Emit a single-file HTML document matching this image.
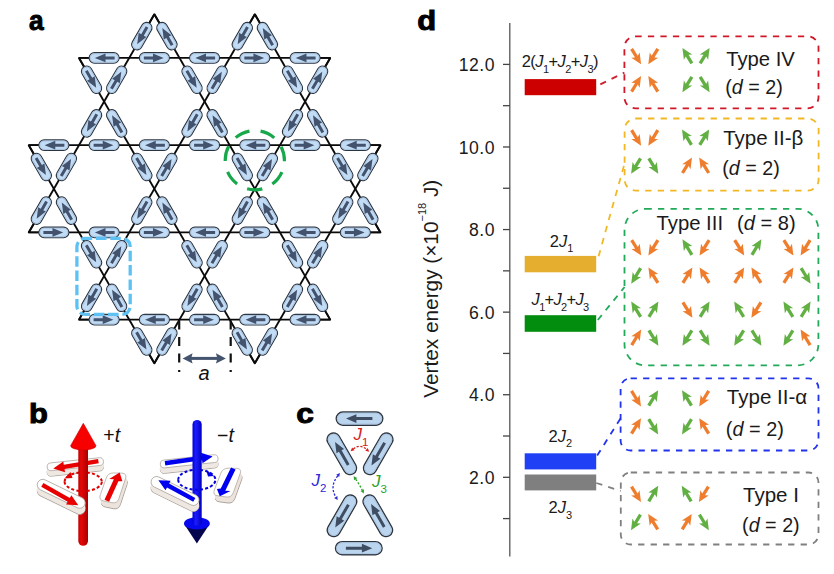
<!DOCTYPE html>
<html><head><meta charset="utf-8"><style>html,body{margin:0;padding:0;background:#fff;width:834px;height:574px;overflow:hidden}</style></head><body>
<svg width="834" height="574" viewBox="0 0 834 574" style="position:absolute;left:0;top:0">
<rect width="834" height="574" fill="#ffffff"/>
<text x="29.0" y="29.9" font-family="'Liberation Sans', Arial, sans-serif" font-weight="bold" font-size="28.5" textLength="14.6" lengthAdjust="spacingAndGlyphs" fill="#000" stroke="#000" stroke-width="1">a</text>
<g stroke="#0a0a0a" stroke-width="1.85" stroke-linecap="butt" stroke-linejoin="round" fill="none">
<line x1="79.00" y1="57.94" x2="330.20" y2="57.94"/>
<line x1="28.76" y1="145.18" x2="380.44" y2="145.18"/>
<line x1="28.76" y1="232.42" x2="380.44" y2="232.42"/>
<line x1="79.00" y1="319.66" x2="330.20" y2="319.66"/>
<line x1="154.36" y1="14.32" x2="330.20" y2="319.66"/>
<line x1="254.84" y1="14.32" x2="380.44" y2="232.42"/>
<line x1="79.00" y1="57.94" x2="254.84" y2="363.28"/>
<line x1="28.76" y1="145.18" x2="154.36" y2="363.28"/>
<line x1="254.84" y1="14.32" x2="79.00" y2="319.66"/>
<line x1="154.36" y1="14.32" x2="28.76" y2="232.42"/>
<line x1="330.20" y1="57.94" x2="154.36" y2="363.28"/>
<line x1="380.44" y1="145.18" x2="254.84" y2="363.28"/>
<polyline points="141.80,36.13 154.36,14.32 166.92,36.13"/>
<polyline points="242.28,36.13 254.84,14.32 267.40,36.13"/>
<polyline points="141.80,341.47 154.36,363.28 166.92,341.47"/>
<polyline points="242.28,341.47 254.84,363.28 267.40,341.47"/>
<polyline points="104.12,57.94 79.00,57.94 91.56,79.75"/>
<polyline points="305.08,57.94 330.20,57.94 317.64,79.75"/>
<polyline points="53.88,145.18 28.76,145.18 41.32,166.99"/>
<polyline points="355.32,145.18 380.44,145.18 367.88,166.99"/>
<polyline points="53.88,232.42 28.76,232.42 41.32,210.61"/>
<polyline points="355.32,232.42 380.44,232.42 367.88,210.61"/>
<polyline points="104.12,319.66 79.00,319.66 91.56,297.85"/>
<polyline points="305.08,319.66 330.20,319.66 317.64,297.85"/>
</g>
<g transform="translate(104.12,57.94) rotate(180.00)"><rect x="-15.0" y="-5.3" width="30.0" height="10.6" rx="5.3" fill="#c3dcf5" stroke="#2c3440" stroke-width="1.1"/><rect x="-13.9" y="-4.199999999999999" width="27.8" height="8.399999999999999" rx="4.199999999999999" fill="none" stroke="#a7c2de" stroke-width="0.9"/><path d="M-10.5,-1.5 L-1.4,-1.5 L-1.4,-4.4 L9.3,0 L-1.4,4.4 L-1.4,1.5 L-10.5,1.5 Z" fill="#44536d"/></g>
<g transform="translate(154.36,57.94) rotate(0.00)"><rect x="-15.0" y="-5.3" width="30.0" height="10.6" rx="5.3" fill="#c3dcf5" stroke="#2c3440" stroke-width="1.1"/><rect x="-13.9" y="-4.199999999999999" width="27.8" height="8.399999999999999" rx="4.199999999999999" fill="none" stroke="#a7c2de" stroke-width="0.9"/><path d="M-10.5,-1.5 L-1.4,-1.5 L-1.4,-4.4 L9.3,0 L-1.4,4.4 L-1.4,1.5 L-10.5,1.5 Z" fill="#44536d"/></g>
<g transform="translate(204.60,57.94) rotate(180.00)"><rect x="-15.0" y="-5.3" width="30.0" height="10.6" rx="5.3" fill="#c3dcf5" stroke="#2c3440" stroke-width="1.1"/><rect x="-13.9" y="-4.199999999999999" width="27.8" height="8.399999999999999" rx="4.199999999999999" fill="none" stroke="#a7c2de" stroke-width="0.9"/><path d="M-10.5,-1.5 L-1.4,-1.5 L-1.4,-4.4 L9.3,0 L-1.4,4.4 L-1.4,1.5 L-10.5,1.5 Z" fill="#44536d"/></g>
<g transform="translate(254.84,57.94) rotate(0.00)"><rect x="-15.0" y="-5.3" width="30.0" height="10.6" rx="5.3" fill="#c3dcf5" stroke="#2c3440" stroke-width="1.1"/><rect x="-13.9" y="-4.199999999999999" width="27.8" height="8.399999999999999" rx="4.199999999999999" fill="none" stroke="#a7c2de" stroke-width="0.9"/><path d="M-10.5,-1.5 L-1.4,-1.5 L-1.4,-4.4 L9.3,0 L-1.4,4.4 L-1.4,1.5 L-10.5,1.5 Z" fill="#44536d"/></g>
<g transform="translate(305.08,57.94) rotate(180.00)"><rect x="-15.0" y="-5.3" width="30.0" height="10.6" rx="5.3" fill="#c3dcf5" stroke="#2c3440" stroke-width="1.1"/><rect x="-13.9" y="-4.199999999999999" width="27.8" height="8.399999999999999" rx="4.199999999999999" fill="none" stroke="#a7c2de" stroke-width="0.9"/><path d="M-10.5,-1.5 L-1.4,-1.5 L-1.4,-4.4 L9.3,0 L-1.4,4.4 L-1.4,1.5 L-10.5,1.5 Z" fill="#44536d"/></g>
<g transform="translate(53.88,145.18) rotate(180.00)"><rect x="-15.0" y="-5.3" width="30.0" height="10.6" rx="5.3" fill="#c3dcf5" stroke="#2c3440" stroke-width="1.1"/><rect x="-13.9" y="-4.199999999999999" width="27.8" height="8.399999999999999" rx="4.199999999999999" fill="none" stroke="#a7c2de" stroke-width="0.9"/><path d="M-10.5,-1.5 L-1.4,-1.5 L-1.4,-4.4 L9.3,0 L-1.4,4.4 L-1.4,1.5 L-10.5,1.5 Z" fill="#44536d"/></g>
<g transform="translate(104.12,145.18) rotate(0.00)"><rect x="-15.0" y="-5.3" width="30.0" height="10.6" rx="5.3" fill="#c3dcf5" stroke="#2c3440" stroke-width="1.1"/><rect x="-13.9" y="-4.199999999999999" width="27.8" height="8.399999999999999" rx="4.199999999999999" fill="none" stroke="#a7c2de" stroke-width="0.9"/><path d="M-10.5,-1.5 L-1.4,-1.5 L-1.4,-4.4 L9.3,0 L-1.4,4.4 L-1.4,1.5 L-10.5,1.5 Z" fill="#44536d"/></g>
<g transform="translate(154.36,145.18) rotate(180.00)"><rect x="-15.0" y="-5.3" width="30.0" height="10.6" rx="5.3" fill="#c3dcf5" stroke="#2c3440" stroke-width="1.1"/><rect x="-13.9" y="-4.199999999999999" width="27.8" height="8.399999999999999" rx="4.199999999999999" fill="none" stroke="#a7c2de" stroke-width="0.9"/><path d="M-10.5,-1.5 L-1.4,-1.5 L-1.4,-4.4 L9.3,0 L-1.4,4.4 L-1.4,1.5 L-10.5,1.5 Z" fill="#44536d"/></g>
<g transform="translate(204.60,145.18) rotate(0.00)"><rect x="-15.0" y="-5.3" width="30.0" height="10.6" rx="5.3" fill="#c3dcf5" stroke="#2c3440" stroke-width="1.1"/><rect x="-13.9" y="-4.199999999999999" width="27.8" height="8.399999999999999" rx="4.199999999999999" fill="none" stroke="#a7c2de" stroke-width="0.9"/><path d="M-10.5,-1.5 L-1.4,-1.5 L-1.4,-4.4 L9.3,0 L-1.4,4.4 L-1.4,1.5 L-10.5,1.5 Z" fill="#44536d"/></g>
<g transform="translate(254.84,145.18) rotate(180.00)"><rect x="-15.0" y="-5.3" width="30.0" height="10.6" rx="5.3" fill="#c3dcf5" stroke="#2c3440" stroke-width="1.1"/><rect x="-13.9" y="-4.199999999999999" width="27.8" height="8.399999999999999" rx="4.199999999999999" fill="none" stroke="#a7c2de" stroke-width="0.9"/><path d="M-10.5,-1.5 L-1.4,-1.5 L-1.4,-4.4 L9.3,0 L-1.4,4.4 L-1.4,1.5 L-10.5,1.5 Z" fill="#44536d"/></g>
<g transform="translate(305.08,145.18) rotate(0.00)"><rect x="-15.0" y="-5.3" width="30.0" height="10.6" rx="5.3" fill="#c3dcf5" stroke="#2c3440" stroke-width="1.1"/><rect x="-13.9" y="-4.199999999999999" width="27.8" height="8.399999999999999" rx="4.199999999999999" fill="none" stroke="#a7c2de" stroke-width="0.9"/><path d="M-10.5,-1.5 L-1.4,-1.5 L-1.4,-4.4 L9.3,0 L-1.4,4.4 L-1.4,1.5 L-10.5,1.5 Z" fill="#44536d"/></g>
<g transform="translate(355.32,145.18) rotate(180.00)"><rect x="-15.0" y="-5.3" width="30.0" height="10.6" rx="5.3" fill="#c3dcf5" stroke="#2c3440" stroke-width="1.1"/><rect x="-13.9" y="-4.199999999999999" width="27.8" height="8.399999999999999" rx="4.199999999999999" fill="none" stroke="#a7c2de" stroke-width="0.9"/><path d="M-10.5,-1.5 L-1.4,-1.5 L-1.4,-4.4 L9.3,0 L-1.4,4.4 L-1.4,1.5 L-10.5,1.5 Z" fill="#44536d"/></g>
<g transform="translate(53.88,232.42) rotate(0.00)"><rect x="-15.0" y="-5.3" width="30.0" height="10.6" rx="5.3" fill="#c3dcf5" stroke="#2c3440" stroke-width="1.1"/><rect x="-13.9" y="-4.199999999999999" width="27.8" height="8.399999999999999" rx="4.199999999999999" fill="none" stroke="#a7c2de" stroke-width="0.9"/><path d="M-10.5,-1.5 L-1.4,-1.5 L-1.4,-4.4 L9.3,0 L-1.4,4.4 L-1.4,1.5 L-10.5,1.5 Z" fill="#44536d"/></g>
<g transform="translate(104.12,232.42) rotate(180.00)"><rect x="-15.0" y="-5.3" width="30.0" height="10.6" rx="5.3" fill="#c3dcf5" stroke="#2c3440" stroke-width="1.1"/><rect x="-13.9" y="-4.199999999999999" width="27.8" height="8.399999999999999" rx="4.199999999999999" fill="none" stroke="#a7c2de" stroke-width="0.9"/><path d="M-10.5,-1.5 L-1.4,-1.5 L-1.4,-4.4 L9.3,0 L-1.4,4.4 L-1.4,1.5 L-10.5,1.5 Z" fill="#44536d"/></g>
<g transform="translate(154.36,232.42) rotate(0.00)"><rect x="-15.0" y="-5.3" width="30.0" height="10.6" rx="5.3" fill="#c3dcf5" stroke="#2c3440" stroke-width="1.1"/><rect x="-13.9" y="-4.199999999999999" width="27.8" height="8.399999999999999" rx="4.199999999999999" fill="none" stroke="#a7c2de" stroke-width="0.9"/><path d="M-10.5,-1.5 L-1.4,-1.5 L-1.4,-4.4 L9.3,0 L-1.4,4.4 L-1.4,1.5 L-10.5,1.5 Z" fill="#44536d"/></g>
<g transform="translate(204.60,232.42) rotate(180.00)"><rect x="-15.0" y="-5.3" width="30.0" height="10.6" rx="5.3" fill="#c3dcf5" stroke="#2c3440" stroke-width="1.1"/><rect x="-13.9" y="-4.199999999999999" width="27.8" height="8.399999999999999" rx="4.199999999999999" fill="none" stroke="#a7c2de" stroke-width="0.9"/><path d="M-10.5,-1.5 L-1.4,-1.5 L-1.4,-4.4 L9.3,0 L-1.4,4.4 L-1.4,1.5 L-10.5,1.5 Z" fill="#44536d"/></g>
<g transform="translate(254.84,232.42) rotate(0.00)"><rect x="-15.0" y="-5.3" width="30.0" height="10.6" rx="5.3" fill="#c3dcf5" stroke="#2c3440" stroke-width="1.1"/><rect x="-13.9" y="-4.199999999999999" width="27.8" height="8.399999999999999" rx="4.199999999999999" fill="none" stroke="#a7c2de" stroke-width="0.9"/><path d="M-10.5,-1.5 L-1.4,-1.5 L-1.4,-4.4 L9.3,0 L-1.4,4.4 L-1.4,1.5 L-10.5,1.5 Z" fill="#44536d"/></g>
<g transform="translate(305.08,232.42) rotate(180.00)"><rect x="-15.0" y="-5.3" width="30.0" height="10.6" rx="5.3" fill="#c3dcf5" stroke="#2c3440" stroke-width="1.1"/><rect x="-13.9" y="-4.199999999999999" width="27.8" height="8.399999999999999" rx="4.199999999999999" fill="none" stroke="#a7c2de" stroke-width="0.9"/><path d="M-10.5,-1.5 L-1.4,-1.5 L-1.4,-4.4 L9.3,0 L-1.4,4.4 L-1.4,1.5 L-10.5,1.5 Z" fill="#44536d"/></g>
<g transform="translate(355.32,232.42) rotate(0.00)"><rect x="-15.0" y="-5.3" width="30.0" height="10.6" rx="5.3" fill="#c3dcf5" stroke="#2c3440" stroke-width="1.1"/><rect x="-13.9" y="-4.199999999999999" width="27.8" height="8.399999999999999" rx="4.199999999999999" fill="none" stroke="#a7c2de" stroke-width="0.9"/><path d="M-10.5,-1.5 L-1.4,-1.5 L-1.4,-4.4 L9.3,0 L-1.4,4.4 L-1.4,1.5 L-10.5,1.5 Z" fill="#44536d"/></g>
<g transform="translate(104.12,319.66) rotate(0.00)"><rect x="-15.0" y="-5.3" width="30.0" height="10.6" rx="5.3" fill="#c3dcf5" stroke="#2c3440" stroke-width="1.1"/><rect x="-13.9" y="-4.199999999999999" width="27.8" height="8.399999999999999" rx="4.199999999999999" fill="none" stroke="#a7c2de" stroke-width="0.9"/><path d="M-10.5,-1.5 L-1.4,-1.5 L-1.4,-4.4 L9.3,0 L-1.4,4.4 L-1.4,1.5 L-10.5,1.5 Z" fill="#44536d"/></g>
<g transform="translate(154.36,319.66) rotate(180.00)"><rect x="-15.0" y="-5.3" width="30.0" height="10.6" rx="5.3" fill="#c3dcf5" stroke="#2c3440" stroke-width="1.1"/><rect x="-13.9" y="-4.199999999999999" width="27.8" height="8.399999999999999" rx="4.199999999999999" fill="none" stroke="#a7c2de" stroke-width="0.9"/><path d="M-10.5,-1.5 L-1.4,-1.5 L-1.4,-4.4 L9.3,0 L-1.4,4.4 L-1.4,1.5 L-10.5,1.5 Z" fill="#44536d"/></g>
<g transform="translate(204.60,319.66) rotate(0.00)"><rect x="-15.0" y="-5.3" width="30.0" height="10.6" rx="5.3" fill="#c3dcf5" stroke="#2c3440" stroke-width="1.1"/><rect x="-13.9" y="-4.199999999999999" width="27.8" height="8.399999999999999" rx="4.199999999999999" fill="none" stroke="#a7c2de" stroke-width="0.9"/><path d="M-10.5,-1.5 L-1.4,-1.5 L-1.4,-4.4 L9.3,0 L-1.4,4.4 L-1.4,1.5 L-10.5,1.5 Z" fill="#44536d"/></g>
<g transform="translate(254.84,319.66) rotate(180.00)"><rect x="-15.0" y="-5.3" width="30.0" height="10.6" rx="5.3" fill="#c3dcf5" stroke="#2c3440" stroke-width="1.1"/><rect x="-13.9" y="-4.199999999999999" width="27.8" height="8.399999999999999" rx="4.199999999999999" fill="none" stroke="#a7c2de" stroke-width="0.9"/><path d="M-10.5,-1.5 L-1.4,-1.5 L-1.4,-4.4 L9.3,0 L-1.4,4.4 L-1.4,1.5 L-10.5,1.5 Z" fill="#44536d"/></g>
<g transform="translate(305.08,319.66) rotate(180.00)"><rect x="-15.0" y="-5.3" width="30.0" height="10.6" rx="5.3" fill="#c3dcf5" stroke="#2c3440" stroke-width="1.1"/><rect x="-13.9" y="-4.199999999999999" width="27.8" height="8.399999999999999" rx="4.199999999999999" fill="none" stroke="#a7c2de" stroke-width="0.9"/><path d="M-10.5,-1.5 L-1.4,-1.5 L-1.4,-4.4 L9.3,0 L-1.4,4.4 L-1.4,1.5 L-10.5,1.5 Z" fill="#44536d"/></g>
<g transform="translate(141.80,36.13) rotate(119.94)"><rect x="-15.0" y="-5.3" width="30.0" height="10.6" rx="5.3" fill="#c3dcf5" stroke="#2c3440" stroke-width="1.1"/><rect x="-13.9" y="-4.199999999999999" width="27.8" height="8.399999999999999" rx="4.199999999999999" fill="none" stroke="#a7c2de" stroke-width="0.9"/><path d="M-10.5,-1.5 L-1.4,-1.5 L-1.4,-4.4 L9.3,0 L-1.4,4.4 L-1.4,1.5 L-10.5,1.5 Z" fill="#44536d"/></g>
<g transform="translate(166.92,36.13) rotate(-119.94)"><rect x="-15.0" y="-5.3" width="30.0" height="10.6" rx="5.3" fill="#c3dcf5" stroke="#2c3440" stroke-width="1.1"/><rect x="-13.9" y="-4.199999999999999" width="27.8" height="8.399999999999999" rx="4.199999999999999" fill="none" stroke="#a7c2de" stroke-width="0.9"/><path d="M-10.5,-1.5 L-1.4,-1.5 L-1.4,-4.4 L9.3,0 L-1.4,4.4 L-1.4,1.5 L-10.5,1.5 Z" fill="#44536d"/></g>
<g transform="translate(242.28,36.13) rotate(119.94)"><rect x="-15.0" y="-5.3" width="30.0" height="10.6" rx="5.3" fill="#c3dcf5" stroke="#2c3440" stroke-width="1.1"/><rect x="-13.9" y="-4.199999999999999" width="27.8" height="8.399999999999999" rx="4.199999999999999" fill="none" stroke="#a7c2de" stroke-width="0.9"/><path d="M-10.5,-1.5 L-1.4,-1.5 L-1.4,-4.4 L9.3,0 L-1.4,4.4 L-1.4,1.5 L-10.5,1.5 Z" fill="#44536d"/></g>
<g transform="translate(267.40,36.13) rotate(-119.94)"><rect x="-15.0" y="-5.3" width="30.0" height="10.6" rx="5.3" fill="#c3dcf5" stroke="#2c3440" stroke-width="1.1"/><rect x="-13.9" y="-4.199999999999999" width="27.8" height="8.399999999999999" rx="4.199999999999999" fill="none" stroke="#a7c2de" stroke-width="0.9"/><path d="M-10.5,-1.5 L-1.4,-1.5 L-1.4,-4.4 L9.3,0 L-1.4,4.4 L-1.4,1.5 L-10.5,1.5 Z" fill="#44536d"/></g>
<g transform="translate(141.80,341.47) rotate(60.06)"><rect x="-15.0" y="-5.3" width="30.0" height="10.6" rx="5.3" fill="#c3dcf5" stroke="#2c3440" stroke-width="1.1"/><rect x="-13.9" y="-4.199999999999999" width="27.8" height="8.399999999999999" rx="4.199999999999999" fill="none" stroke="#a7c2de" stroke-width="0.9"/><path d="M-10.5,-1.5 L-1.4,-1.5 L-1.4,-4.4 L9.3,0 L-1.4,4.4 L-1.4,1.5 L-10.5,1.5 Z" fill="#44536d"/></g>
<g transform="translate(166.92,341.47) rotate(-60.06)"><rect x="-15.0" y="-5.3" width="30.0" height="10.6" rx="5.3" fill="#c3dcf5" stroke="#2c3440" stroke-width="1.1"/><rect x="-13.9" y="-4.199999999999999" width="27.8" height="8.399999999999999" rx="4.199999999999999" fill="none" stroke="#a7c2de" stroke-width="0.9"/><path d="M-10.5,-1.5 L-1.4,-1.5 L-1.4,-4.4 L9.3,0 L-1.4,4.4 L-1.4,1.5 L-10.5,1.5 Z" fill="#44536d"/></g>
<g transform="translate(242.28,341.47) rotate(60.06)"><rect x="-15.0" y="-5.3" width="30.0" height="10.6" rx="5.3" fill="#c3dcf5" stroke="#2c3440" stroke-width="1.1"/><rect x="-13.9" y="-4.199999999999999" width="27.8" height="8.399999999999999" rx="4.199999999999999" fill="none" stroke="#a7c2de" stroke-width="0.9"/><path d="M-10.5,-1.5 L-1.4,-1.5 L-1.4,-4.4 L9.3,0 L-1.4,4.4 L-1.4,1.5 L-10.5,1.5 Z" fill="#44536d"/></g>
<g transform="translate(267.40,341.47) rotate(-60.06)"><rect x="-15.0" y="-5.3" width="30.0" height="10.6" rx="5.3" fill="#c3dcf5" stroke="#2c3440" stroke-width="1.1"/><rect x="-13.9" y="-4.199999999999999" width="27.8" height="8.399999999999999" rx="4.199999999999999" fill="none" stroke="#a7c2de" stroke-width="0.9"/><path d="M-10.5,-1.5 L-1.4,-1.5 L-1.4,-4.4 L9.3,0 L-1.4,4.4 L-1.4,1.5 L-10.5,1.5 Z" fill="#44536d"/></g>
<g transform="translate(91.56,79.75) rotate(60.06)"><rect x="-15.0" y="-5.3" width="30.0" height="10.6" rx="5.3" fill="#c3dcf5" stroke="#2c3440" stroke-width="1.1"/><rect x="-13.9" y="-4.199999999999999" width="27.8" height="8.399999999999999" rx="4.199999999999999" fill="none" stroke="#a7c2de" stroke-width="0.9"/><path d="M-10.5,-1.5 L-1.4,-1.5 L-1.4,-4.4 L9.3,0 L-1.4,4.4 L-1.4,1.5 L-10.5,1.5 Z" fill="#44536d"/></g>
<g transform="translate(116.68,79.75) rotate(-60.06)"><rect x="-15.0" y="-5.3" width="30.0" height="10.6" rx="5.3" fill="#c3dcf5" stroke="#2c3440" stroke-width="1.1"/><rect x="-13.9" y="-4.199999999999999" width="27.8" height="8.399999999999999" rx="4.199999999999999" fill="none" stroke="#a7c2de" stroke-width="0.9"/><path d="M-10.5,-1.5 L-1.4,-1.5 L-1.4,-4.4 L9.3,0 L-1.4,4.4 L-1.4,1.5 L-10.5,1.5 Z" fill="#44536d"/></g>
<g transform="translate(91.56,123.37) rotate(119.94)"><rect x="-15.0" y="-5.3" width="30.0" height="10.6" rx="5.3" fill="#c3dcf5" stroke="#2c3440" stroke-width="1.1"/><rect x="-13.9" y="-4.199999999999999" width="27.8" height="8.399999999999999" rx="4.199999999999999" fill="none" stroke="#a7c2de" stroke-width="0.9"/><path d="M-10.5,-1.5 L-1.4,-1.5 L-1.4,-4.4 L9.3,0 L-1.4,4.4 L-1.4,1.5 L-10.5,1.5 Z" fill="#44536d"/></g>
<g transform="translate(116.68,123.37) rotate(-119.94)"><rect x="-15.0" y="-5.3" width="30.0" height="10.6" rx="5.3" fill="#c3dcf5" stroke="#2c3440" stroke-width="1.1"/><rect x="-13.9" y="-4.199999999999999" width="27.8" height="8.399999999999999" rx="4.199999999999999" fill="none" stroke="#a7c2de" stroke-width="0.9"/><path d="M-10.5,-1.5 L-1.4,-1.5 L-1.4,-4.4 L9.3,0 L-1.4,4.4 L-1.4,1.5 L-10.5,1.5 Z" fill="#44536d"/></g>
<g transform="translate(192.04,79.75) rotate(60.06)"><rect x="-15.0" y="-5.3" width="30.0" height="10.6" rx="5.3" fill="#c3dcf5" stroke="#2c3440" stroke-width="1.1"/><rect x="-13.9" y="-4.199999999999999" width="27.8" height="8.399999999999999" rx="4.199999999999999" fill="none" stroke="#a7c2de" stroke-width="0.9"/><path d="M-10.5,-1.5 L-1.4,-1.5 L-1.4,-4.4 L9.3,0 L-1.4,4.4 L-1.4,1.5 L-10.5,1.5 Z" fill="#44536d"/></g>
<g transform="translate(217.16,79.75) rotate(-60.06)"><rect x="-15.0" y="-5.3" width="30.0" height="10.6" rx="5.3" fill="#c3dcf5" stroke="#2c3440" stroke-width="1.1"/><rect x="-13.9" y="-4.199999999999999" width="27.8" height="8.399999999999999" rx="4.199999999999999" fill="none" stroke="#a7c2de" stroke-width="0.9"/><path d="M-10.5,-1.5 L-1.4,-1.5 L-1.4,-4.4 L9.3,0 L-1.4,4.4 L-1.4,1.5 L-10.5,1.5 Z" fill="#44536d"/></g>
<g transform="translate(192.04,123.37) rotate(119.94)"><rect x="-15.0" y="-5.3" width="30.0" height="10.6" rx="5.3" fill="#c3dcf5" stroke="#2c3440" stroke-width="1.1"/><rect x="-13.9" y="-4.199999999999999" width="27.8" height="8.399999999999999" rx="4.199999999999999" fill="none" stroke="#a7c2de" stroke-width="0.9"/><path d="M-10.5,-1.5 L-1.4,-1.5 L-1.4,-4.4 L9.3,0 L-1.4,4.4 L-1.4,1.5 L-10.5,1.5 Z" fill="#44536d"/></g>
<g transform="translate(217.16,123.37) rotate(-119.94)"><rect x="-15.0" y="-5.3" width="30.0" height="10.6" rx="5.3" fill="#c3dcf5" stroke="#2c3440" stroke-width="1.1"/><rect x="-13.9" y="-4.199999999999999" width="27.8" height="8.399999999999999" rx="4.199999999999999" fill="none" stroke="#a7c2de" stroke-width="0.9"/><path d="M-10.5,-1.5 L-1.4,-1.5 L-1.4,-4.4 L9.3,0 L-1.4,4.4 L-1.4,1.5 L-10.5,1.5 Z" fill="#44536d"/></g>
<g transform="translate(292.52,79.75) rotate(60.06)"><rect x="-15.0" y="-5.3" width="30.0" height="10.6" rx="5.3" fill="#c3dcf5" stroke="#2c3440" stroke-width="1.1"/><rect x="-13.9" y="-4.199999999999999" width="27.8" height="8.399999999999999" rx="4.199999999999999" fill="none" stroke="#a7c2de" stroke-width="0.9"/><path d="M-10.5,-1.5 L-1.4,-1.5 L-1.4,-4.4 L9.3,0 L-1.4,4.4 L-1.4,1.5 L-10.5,1.5 Z" fill="#44536d"/></g>
<g transform="translate(317.64,79.75) rotate(-60.06)"><rect x="-15.0" y="-5.3" width="30.0" height="10.6" rx="5.3" fill="#c3dcf5" stroke="#2c3440" stroke-width="1.1"/><rect x="-13.9" y="-4.199999999999999" width="27.8" height="8.399999999999999" rx="4.199999999999999" fill="none" stroke="#a7c2de" stroke-width="0.9"/><path d="M-10.5,-1.5 L-1.4,-1.5 L-1.4,-4.4 L9.3,0 L-1.4,4.4 L-1.4,1.5 L-10.5,1.5 Z" fill="#44536d"/></g>
<g transform="translate(292.52,123.37) rotate(119.94)"><rect x="-15.0" y="-5.3" width="30.0" height="10.6" rx="5.3" fill="#c3dcf5" stroke="#2c3440" stroke-width="1.1"/><rect x="-13.9" y="-4.199999999999999" width="27.8" height="8.399999999999999" rx="4.199999999999999" fill="none" stroke="#a7c2de" stroke-width="0.9"/><path d="M-10.5,-1.5 L-1.4,-1.5 L-1.4,-4.4 L9.3,0 L-1.4,4.4 L-1.4,1.5 L-10.5,1.5 Z" fill="#44536d"/></g>
<g transform="translate(317.64,123.37) rotate(-119.94)"><rect x="-15.0" y="-5.3" width="30.0" height="10.6" rx="5.3" fill="#c3dcf5" stroke="#2c3440" stroke-width="1.1"/><rect x="-13.9" y="-4.199999999999999" width="27.8" height="8.399999999999999" rx="4.199999999999999" fill="none" stroke="#a7c2de" stroke-width="0.9"/><path d="M-10.5,-1.5 L-1.4,-1.5 L-1.4,-4.4 L9.3,0 L-1.4,4.4 L-1.4,1.5 L-10.5,1.5 Z" fill="#44536d"/></g>
<g transform="translate(41.32,166.99) rotate(60.06)"><rect x="-15.0" y="-5.3" width="30.0" height="10.6" rx="5.3" fill="#c3dcf5" stroke="#2c3440" stroke-width="1.1"/><rect x="-13.9" y="-4.199999999999999" width="27.8" height="8.399999999999999" rx="4.199999999999999" fill="none" stroke="#a7c2de" stroke-width="0.9"/><path d="M-10.5,-1.5 L-1.4,-1.5 L-1.4,-4.4 L9.3,0 L-1.4,4.4 L-1.4,1.5 L-10.5,1.5 Z" fill="#44536d"/></g>
<g transform="translate(66.44,166.99) rotate(-60.06)"><rect x="-15.0" y="-5.3" width="30.0" height="10.6" rx="5.3" fill="#c3dcf5" stroke="#2c3440" stroke-width="1.1"/><rect x="-13.9" y="-4.199999999999999" width="27.8" height="8.399999999999999" rx="4.199999999999999" fill="none" stroke="#a7c2de" stroke-width="0.9"/><path d="M-10.5,-1.5 L-1.4,-1.5 L-1.4,-4.4 L9.3,0 L-1.4,4.4 L-1.4,1.5 L-10.5,1.5 Z" fill="#44536d"/></g>
<g transform="translate(41.32,210.61) rotate(119.94)"><rect x="-15.0" y="-5.3" width="30.0" height="10.6" rx="5.3" fill="#c3dcf5" stroke="#2c3440" stroke-width="1.1"/><rect x="-13.9" y="-4.199999999999999" width="27.8" height="8.399999999999999" rx="4.199999999999999" fill="none" stroke="#a7c2de" stroke-width="0.9"/><path d="M-10.5,-1.5 L-1.4,-1.5 L-1.4,-4.4 L9.3,0 L-1.4,4.4 L-1.4,1.5 L-10.5,1.5 Z" fill="#44536d"/></g>
<g transform="translate(66.44,210.61) rotate(-119.94)"><rect x="-15.0" y="-5.3" width="30.0" height="10.6" rx="5.3" fill="#c3dcf5" stroke="#2c3440" stroke-width="1.1"/><rect x="-13.9" y="-4.199999999999999" width="27.8" height="8.399999999999999" rx="4.199999999999999" fill="none" stroke="#a7c2de" stroke-width="0.9"/><path d="M-10.5,-1.5 L-1.4,-1.5 L-1.4,-4.4 L9.3,0 L-1.4,4.4 L-1.4,1.5 L-10.5,1.5 Z" fill="#44536d"/></g>
<g transform="translate(141.80,166.99) rotate(60.06)"><rect x="-15.0" y="-5.3" width="30.0" height="10.6" rx="5.3" fill="#c3dcf5" stroke="#2c3440" stroke-width="1.1"/><rect x="-13.9" y="-4.199999999999999" width="27.8" height="8.399999999999999" rx="4.199999999999999" fill="none" stroke="#a7c2de" stroke-width="0.9"/><path d="M-10.5,-1.5 L-1.4,-1.5 L-1.4,-4.4 L9.3,0 L-1.4,4.4 L-1.4,1.5 L-10.5,1.5 Z" fill="#44536d"/></g>
<g transform="translate(166.92,166.99) rotate(-60.06)"><rect x="-15.0" y="-5.3" width="30.0" height="10.6" rx="5.3" fill="#c3dcf5" stroke="#2c3440" stroke-width="1.1"/><rect x="-13.9" y="-4.199999999999999" width="27.8" height="8.399999999999999" rx="4.199999999999999" fill="none" stroke="#a7c2de" stroke-width="0.9"/><path d="M-10.5,-1.5 L-1.4,-1.5 L-1.4,-4.4 L9.3,0 L-1.4,4.4 L-1.4,1.5 L-10.5,1.5 Z" fill="#44536d"/></g>
<g transform="translate(141.80,210.61) rotate(119.94)"><rect x="-15.0" y="-5.3" width="30.0" height="10.6" rx="5.3" fill="#c3dcf5" stroke="#2c3440" stroke-width="1.1"/><rect x="-13.9" y="-4.199999999999999" width="27.8" height="8.399999999999999" rx="4.199999999999999" fill="none" stroke="#a7c2de" stroke-width="0.9"/><path d="M-10.5,-1.5 L-1.4,-1.5 L-1.4,-4.4 L9.3,0 L-1.4,4.4 L-1.4,1.5 L-10.5,1.5 Z" fill="#44536d"/></g>
<g transform="translate(166.92,210.61) rotate(-119.94)"><rect x="-15.0" y="-5.3" width="30.0" height="10.6" rx="5.3" fill="#c3dcf5" stroke="#2c3440" stroke-width="1.1"/><rect x="-13.9" y="-4.199999999999999" width="27.8" height="8.399999999999999" rx="4.199999999999999" fill="none" stroke="#a7c2de" stroke-width="0.9"/><path d="M-10.5,-1.5 L-1.4,-1.5 L-1.4,-4.4 L9.3,0 L-1.4,4.4 L-1.4,1.5 L-10.5,1.5 Z" fill="#44536d"/></g>
<g transform="translate(242.28,166.99) rotate(60.06)"><rect x="-15.0" y="-5.3" width="30.0" height="10.6" rx="5.3" fill="#c3dcf5" stroke="#2c3440" stroke-width="1.1"/><rect x="-13.9" y="-4.199999999999999" width="27.8" height="8.399999999999999" rx="4.199999999999999" fill="none" stroke="#a7c2de" stroke-width="0.9"/><path d="M-10.5,-1.5 L-1.4,-1.5 L-1.4,-4.4 L9.3,0 L-1.4,4.4 L-1.4,1.5 L-10.5,1.5 Z" fill="#44536d"/></g>
<g transform="translate(267.40,166.99) rotate(-60.06)"><rect x="-15.0" y="-5.3" width="30.0" height="10.6" rx="5.3" fill="#c3dcf5" stroke="#2c3440" stroke-width="1.1"/><rect x="-13.9" y="-4.199999999999999" width="27.8" height="8.399999999999999" rx="4.199999999999999" fill="none" stroke="#a7c2de" stroke-width="0.9"/><path d="M-10.5,-1.5 L-1.4,-1.5 L-1.4,-4.4 L9.3,0 L-1.4,4.4 L-1.4,1.5 L-10.5,1.5 Z" fill="#44536d"/></g>
<g transform="translate(242.28,210.61) rotate(119.94)"><rect x="-15.0" y="-5.3" width="30.0" height="10.6" rx="5.3" fill="#c3dcf5" stroke="#2c3440" stroke-width="1.1"/><rect x="-13.9" y="-4.199999999999999" width="27.8" height="8.399999999999999" rx="4.199999999999999" fill="none" stroke="#a7c2de" stroke-width="0.9"/><path d="M-10.5,-1.5 L-1.4,-1.5 L-1.4,-4.4 L9.3,0 L-1.4,4.4 L-1.4,1.5 L-10.5,1.5 Z" fill="#44536d"/></g>
<g transform="translate(267.40,210.61) rotate(-119.94)"><rect x="-15.0" y="-5.3" width="30.0" height="10.6" rx="5.3" fill="#c3dcf5" stroke="#2c3440" stroke-width="1.1"/><rect x="-13.9" y="-4.199999999999999" width="27.8" height="8.399999999999999" rx="4.199999999999999" fill="none" stroke="#a7c2de" stroke-width="0.9"/><path d="M-10.5,-1.5 L-1.4,-1.5 L-1.4,-4.4 L9.3,0 L-1.4,4.4 L-1.4,1.5 L-10.5,1.5 Z" fill="#44536d"/></g>
<g transform="translate(342.76,166.99) rotate(60.06)"><rect x="-15.0" y="-5.3" width="30.0" height="10.6" rx="5.3" fill="#c3dcf5" stroke="#2c3440" stroke-width="1.1"/><rect x="-13.9" y="-4.199999999999999" width="27.8" height="8.399999999999999" rx="4.199999999999999" fill="none" stroke="#a7c2de" stroke-width="0.9"/><path d="M-10.5,-1.5 L-1.4,-1.5 L-1.4,-4.4 L9.3,0 L-1.4,4.4 L-1.4,1.5 L-10.5,1.5 Z" fill="#44536d"/></g>
<g transform="translate(367.88,166.99) rotate(-60.06)"><rect x="-15.0" y="-5.3" width="30.0" height="10.6" rx="5.3" fill="#c3dcf5" stroke="#2c3440" stroke-width="1.1"/><rect x="-13.9" y="-4.199999999999999" width="27.8" height="8.399999999999999" rx="4.199999999999999" fill="none" stroke="#a7c2de" stroke-width="0.9"/><path d="M-10.5,-1.5 L-1.4,-1.5 L-1.4,-4.4 L9.3,0 L-1.4,4.4 L-1.4,1.5 L-10.5,1.5 Z" fill="#44536d"/></g>
<g transform="translate(342.76,210.61) rotate(119.94)"><rect x="-15.0" y="-5.3" width="30.0" height="10.6" rx="5.3" fill="#c3dcf5" stroke="#2c3440" stroke-width="1.1"/><rect x="-13.9" y="-4.199999999999999" width="27.8" height="8.399999999999999" rx="4.199999999999999" fill="none" stroke="#a7c2de" stroke-width="0.9"/><path d="M-10.5,-1.5 L-1.4,-1.5 L-1.4,-4.4 L9.3,0 L-1.4,4.4 L-1.4,1.5 L-10.5,1.5 Z" fill="#44536d"/></g>
<g transform="translate(367.88,210.61) rotate(-119.94)"><rect x="-15.0" y="-5.3" width="30.0" height="10.6" rx="5.3" fill="#c3dcf5" stroke="#2c3440" stroke-width="1.1"/><rect x="-13.9" y="-4.199999999999999" width="27.8" height="8.399999999999999" rx="4.199999999999999" fill="none" stroke="#a7c2de" stroke-width="0.9"/><path d="M-10.5,-1.5 L-1.4,-1.5 L-1.4,-4.4 L9.3,0 L-1.4,4.4 L-1.4,1.5 L-10.5,1.5 Z" fill="#44536d"/></g>
<g transform="translate(91.56,254.23) rotate(60.06)"><rect x="-15.0" y="-5.3" width="30.0" height="10.6" rx="5.3" fill="#c3dcf5" stroke="#2c3440" stroke-width="1.1"/><rect x="-13.9" y="-4.199999999999999" width="27.8" height="8.399999999999999" rx="4.199999999999999" fill="none" stroke="#a7c2de" stroke-width="0.9"/><path d="M-10.5,-1.5 L-1.4,-1.5 L-1.4,-4.4 L9.3,0 L-1.4,4.4 L-1.4,1.5 L-10.5,1.5 Z" fill="#44536d"/></g>
<g transform="translate(116.68,254.23) rotate(-60.06)"><rect x="-15.0" y="-5.3" width="30.0" height="10.6" rx="5.3" fill="#c3dcf5" stroke="#2c3440" stroke-width="1.1"/><rect x="-13.9" y="-4.199999999999999" width="27.8" height="8.399999999999999" rx="4.199999999999999" fill="none" stroke="#a7c2de" stroke-width="0.9"/><path d="M-10.5,-1.5 L-1.4,-1.5 L-1.4,-4.4 L9.3,0 L-1.4,4.4 L-1.4,1.5 L-10.5,1.5 Z" fill="#44536d"/></g>
<g transform="translate(91.56,297.85) rotate(119.94)"><rect x="-15.0" y="-5.3" width="30.0" height="10.6" rx="5.3" fill="#c3dcf5" stroke="#2c3440" stroke-width="1.1"/><rect x="-13.9" y="-4.199999999999999" width="27.8" height="8.399999999999999" rx="4.199999999999999" fill="none" stroke="#a7c2de" stroke-width="0.9"/><path d="M-10.5,-1.5 L-1.4,-1.5 L-1.4,-4.4 L9.3,0 L-1.4,4.4 L-1.4,1.5 L-10.5,1.5 Z" fill="#44536d"/></g>
<g transform="translate(116.68,297.85) rotate(-119.94)"><rect x="-15.0" y="-5.3" width="30.0" height="10.6" rx="5.3" fill="#c3dcf5" stroke="#2c3440" stroke-width="1.1"/><rect x="-13.9" y="-4.199999999999999" width="27.8" height="8.399999999999999" rx="4.199999999999999" fill="none" stroke="#a7c2de" stroke-width="0.9"/><path d="M-10.5,-1.5 L-1.4,-1.5 L-1.4,-4.4 L9.3,0 L-1.4,4.4 L-1.4,1.5 L-10.5,1.5 Z" fill="#44536d"/></g>
<g transform="translate(192.04,254.23) rotate(60.06)"><rect x="-15.0" y="-5.3" width="30.0" height="10.6" rx="5.3" fill="#c3dcf5" stroke="#2c3440" stroke-width="1.1"/><rect x="-13.9" y="-4.199999999999999" width="27.8" height="8.399999999999999" rx="4.199999999999999" fill="none" stroke="#a7c2de" stroke-width="0.9"/><path d="M-10.5,-1.5 L-1.4,-1.5 L-1.4,-4.4 L9.3,0 L-1.4,4.4 L-1.4,1.5 L-10.5,1.5 Z" fill="#44536d"/></g>
<g transform="translate(217.16,254.23) rotate(-60.06)"><rect x="-15.0" y="-5.3" width="30.0" height="10.6" rx="5.3" fill="#c3dcf5" stroke="#2c3440" stroke-width="1.1"/><rect x="-13.9" y="-4.199999999999999" width="27.8" height="8.399999999999999" rx="4.199999999999999" fill="none" stroke="#a7c2de" stroke-width="0.9"/><path d="M-10.5,-1.5 L-1.4,-1.5 L-1.4,-4.4 L9.3,0 L-1.4,4.4 L-1.4,1.5 L-10.5,1.5 Z" fill="#44536d"/></g>
<g transform="translate(192.04,297.85) rotate(119.94)"><rect x="-15.0" y="-5.3" width="30.0" height="10.6" rx="5.3" fill="#c3dcf5" stroke="#2c3440" stroke-width="1.1"/><rect x="-13.9" y="-4.199999999999999" width="27.8" height="8.399999999999999" rx="4.199999999999999" fill="none" stroke="#a7c2de" stroke-width="0.9"/><path d="M-10.5,-1.5 L-1.4,-1.5 L-1.4,-4.4 L9.3,0 L-1.4,4.4 L-1.4,1.5 L-10.5,1.5 Z" fill="#44536d"/></g>
<g transform="translate(217.16,297.85) rotate(-119.94)"><rect x="-15.0" y="-5.3" width="30.0" height="10.6" rx="5.3" fill="#c3dcf5" stroke="#2c3440" stroke-width="1.1"/><rect x="-13.9" y="-4.199999999999999" width="27.8" height="8.399999999999999" rx="4.199999999999999" fill="none" stroke="#a7c2de" stroke-width="0.9"/><path d="M-10.5,-1.5 L-1.4,-1.5 L-1.4,-4.4 L9.3,0 L-1.4,4.4 L-1.4,1.5 L-10.5,1.5 Z" fill="#44536d"/></g>
<g transform="translate(292.52,254.23) rotate(60.06)"><rect x="-15.0" y="-5.3" width="30.0" height="10.6" rx="5.3" fill="#c3dcf5" stroke="#2c3440" stroke-width="1.1"/><rect x="-13.9" y="-4.199999999999999" width="27.8" height="8.399999999999999" rx="4.199999999999999" fill="none" stroke="#a7c2de" stroke-width="0.9"/><path d="M-10.5,-1.5 L-1.4,-1.5 L-1.4,-4.4 L9.3,0 L-1.4,4.4 L-1.4,1.5 L-10.5,1.5 Z" fill="#44536d"/></g>
<g transform="translate(317.64,254.23) rotate(-60.06)"><rect x="-15.0" y="-5.3" width="30.0" height="10.6" rx="5.3" fill="#c3dcf5" stroke="#2c3440" stroke-width="1.1"/><rect x="-13.9" y="-4.199999999999999" width="27.8" height="8.399999999999999" rx="4.199999999999999" fill="none" stroke="#a7c2de" stroke-width="0.9"/><path d="M-10.5,-1.5 L-1.4,-1.5 L-1.4,-4.4 L9.3,0 L-1.4,4.4 L-1.4,1.5 L-10.5,1.5 Z" fill="#44536d"/></g>
<g transform="translate(292.52,297.85) rotate(-60.06)"><rect x="-15.0" y="-5.3" width="30.0" height="10.6" rx="5.3" fill="#c3dcf5" stroke="#2c3440" stroke-width="1.1"/><rect x="-13.9" y="-4.199999999999999" width="27.8" height="8.399999999999999" rx="4.199999999999999" fill="none" stroke="#a7c2de" stroke-width="0.9"/><path d="M-10.5,-1.5 L-1.4,-1.5 L-1.4,-4.4 L9.3,0 L-1.4,4.4 L-1.4,1.5 L-10.5,1.5 Z" fill="#44536d"/></g>
<g transform="translate(317.64,297.85) rotate(60.06)"><rect x="-15.0" y="-5.3" width="30.0" height="10.6" rx="5.3" fill="#c3dcf5" stroke="#2c3440" stroke-width="1.1"/><rect x="-13.9" y="-4.199999999999999" width="27.8" height="8.399999999999999" rx="4.199999999999999" fill="none" stroke="#a7c2de" stroke-width="0.9"/><path d="M-10.5,-1.5 L-1.4,-1.5 L-1.4,-4.4 L9.3,0 L-1.4,4.4 L-1.4,1.5 L-10.5,1.5 Z" fill="#44536d"/></g>
<path d="M284.40000000000003,160.2 A29.6,29.6 0 1 1 225.20000000000002,160.2 A29.6,29.6 0 1 1 284.40000000000003,160.2" fill="none" stroke="#16a84a" stroke-width="3.2" stroke-dasharray="15.4 11.16" stroke-dashoffset="14.3"/>
<rect x="76.9" y="238.4" width="53.3" height="76" rx="8.4" fill="none" stroke="#5ec1f4" stroke-width="3.3" stroke-dasharray="10.5 3.8" stroke-dashoffset="3.6"/>
<g stroke="#111" stroke-width="2.2" stroke-dasharray="9 7.5">
<line x1="179.2" y1="320.5" x2="179.2" y2="372"/><line x1="230.7" y1="320.5" x2="230.7" y2="372"/>
</g>
<line x1="190.6" y1="358.4" x2="217.9" y2="358.4" stroke="#45546e" stroke-width="3"/><path d="M182.6,358.4 L192.6,353.2 L191.1,358.4 L192.6,363.59999999999997 Z" fill="#45546e"/><path d="M225.9,358.4 L215.9,353.2 L217.4,358.4 L215.9,363.59999999999997 Z" fill="#45546e"/>
<text x="204" y="380.4" text-anchor="middle" font-family="'Liberation Sans', Arial, sans-serif" font-style="italic" font-size="20" fill="#111">a</text>
<text x="28.9" y="423.0" font-family="'Liberation Sans', Arial, sans-serif" font-weight="bold" font-size="28.5" textLength="18.9" lengthAdjust="spacingAndGlyphs" fill="#000" stroke="#000" stroke-width="1">b</text>
<defs>
<linearGradient id="rshaft" x1="0" x2="1" y1="0" y2="0"><stop offset="0" stop-color="#c00000"/><stop offset="0.3" stop-color="#e60808"/><stop offset="1" stop-color="#a80000"/></linearGradient>
<linearGradient id="bshaft" x1="0" x2="1" y1="0" y2="0"><stop offset="0" stop-color="#0000d8"/><stop offset="0.35" stop-color="#1c1cff"/><stop offset="1" stop-color="#0000c0"/></linearGradient>
<linearGradient id="bcone" x1="0" x2="0" y1="0" y2="1"><stop offset="0" stop-color="#1818d8"/><stop offset="0.45" stop-color="#0c0c80"/><stop offset="1" stop-color="#05053a"/></linearGradient>
</defs>
<g transform="translate(75.3,464.2)"><g transform="translate(0,5.50) rotate(-6.1)"><rect x="-28.25" y="-3.9" width="56.5" height="7.8" rx="3.9" fill="#efe8e2" stroke="#ada59e" stroke-width="0.9"/></g><g transform="translate(0,5.00) rotate(-6.1)"><rect x="-28.25" y="-3.9" width="56.5" height="7.8" rx="3.9" fill="#efe8e2"/></g><g transform="translate(0,4.50) rotate(-6.1)"><rect x="-28.25" y="-3.9" width="56.5" height="7.8" rx="3.9" fill="#efe8e2"/></g><g transform="translate(0,4.00) rotate(-6.1)"><rect x="-28.25" y="-3.9" width="56.5" height="7.8" rx="3.9" fill="#efe8e2"/></g><g transform="translate(0,3.50) rotate(-6.1)"><rect x="-28.25" y="-3.9" width="56.5" height="7.8" rx="3.9" fill="#efe8e2"/></g><g transform="translate(0,3.00) rotate(-6.1)"><rect x="-28.25" y="-3.9" width="56.5" height="7.8" rx="3.9" fill="#efe8e2"/></g><g transform="translate(0,2.50) rotate(-6.1)"><rect x="-28.25" y="-3.9" width="56.5" height="7.8" rx="3.9" fill="#efe8e2"/></g><g transform="translate(0,2.00) rotate(-6.1)"><rect x="-28.25" y="-3.9" width="56.5" height="7.8" rx="3.9" fill="#efe8e2"/></g><g transform="translate(0,1.50) rotate(-6.1)"><rect x="-28.25" y="-3.9" width="56.5" height="7.8" rx="3.9" fill="#efe8e2"/></g><g transform="translate(0,1.00) rotate(-6.1)"><rect x="-28.25" y="-3.9" width="56.5" height="7.8" rx="3.9" fill="#efe8e2"/></g><g transform="translate(0,0.50) rotate(-6.1)"><rect x="-28.25" y="-3.9" width="56.5" height="7.8" rx="3.9" fill="#efe8e2"/></g><g transform="rotate(-6.1)"><rect x="-28.25" y="-3.9" width="56.5" height="7.8" rx="3.9" fill="#ffffff" stroke="#b0a8a2" stroke-width="0.8"/></g></g>
<path d="M98.04,459.03 L63.80,464.65 L63.28,461.49 L53.30,468.60 L65.03,472.15 L64.51,468.99 L98.76,463.37 Z" fill="#e80000"/>
<path d="M64.6,481.7 A18.6,9.4 0 0 1 101.8,481.7" fill="none" stroke="#e00000" stroke-width="2" stroke-dasharray="3 2.2"/>
<path d="M64.5,478.5 L70.5,472 L72.5,478 Z" fill="#e00000"/>
<path d="M78.3,446 L78.3,541 A4.85,4.85 0 0 0 88,541 L88,446 Z" fill="url(#rshaft)"/>
<path d="M83.3,423.3 L70.6,445.7 A12.7,4.3 0 0 0 96,445.7 Z" fill="#f60000" stroke="#d00000" stroke-width="0.6"/>
<path d="M64.6,481.7 A18.6,9.4 0 0 0 101.8,481.7" fill="none" stroke="#e00000" stroke-width="2" stroke-dasharray="3 2.2"/>
<g transform="translate(61.2,493.8)"><g transform="translate(0,6.00) rotate(26)"><rect x="-26.0" y="-5.5" width="52" height="11" rx="5.5" fill="#efe8e2" stroke="#ada59e" stroke-width="0.9"/></g><g transform="translate(0,5.50) rotate(26)"><rect x="-26.0" y="-5.5" width="52" height="11" rx="5.5" fill="#efe8e2"/></g><g transform="translate(0,5.00) rotate(26)"><rect x="-26.0" y="-5.5" width="52" height="11" rx="5.5" fill="#efe8e2"/></g><g transform="translate(0,4.50) rotate(26)"><rect x="-26.0" y="-5.5" width="52" height="11" rx="5.5" fill="#efe8e2"/></g><g transform="translate(0,4.00) rotate(26)"><rect x="-26.0" y="-5.5" width="52" height="11" rx="5.5" fill="#efe8e2"/></g><g transform="translate(0,3.50) rotate(26)"><rect x="-26.0" y="-5.5" width="52" height="11" rx="5.5" fill="#efe8e2"/></g><g transform="translate(0,3.00) rotate(26)"><rect x="-26.0" y="-5.5" width="52" height="11" rx="5.5" fill="#efe8e2"/></g><g transform="translate(0,2.50) rotate(26)"><rect x="-26.0" y="-5.5" width="52" height="11" rx="5.5" fill="#efe8e2"/></g><g transform="translate(0,2.00) rotate(26)"><rect x="-26.0" y="-5.5" width="52" height="11" rx="5.5" fill="#efe8e2"/></g><g transform="translate(0,1.50) rotate(26)"><rect x="-26.0" y="-5.5" width="52" height="11" rx="5.5" fill="#efe8e2"/></g><g transform="translate(0,1.00) rotate(26)"><rect x="-26.0" y="-5.5" width="52" height="11" rx="5.5" fill="#efe8e2"/></g><g transform="translate(0,0.50) rotate(26)"><rect x="-26.0" y="-5.5" width="52" height="11" rx="5.5" fill="#efe8e2"/></g><g transform="rotate(26)"><rect x="-26.0" y="-5.5" width="52" height="11" rx="5.5" fill="#ffffff" stroke="#b0a8a2" stroke-width="0.8"/></g></g>
<path d="M41.21,486.71 L67.65,501.77 L66.07,504.55 L78.30,505.30 L71.41,495.16 L69.83,497.95 L43.39,482.89 Z" fill="#e80000"/>
<path transform="translate(1.50,6.00)" d="M106.26,477.98 Q108.10,472.80 113.60,472.94 L121.70,473.16 Q127.20,473.30 125.49,478.53 L118.91,498.57 Q117.20,503.80 111.82,502.68 L103.88,501.02 Q98.50,499.90 100.34,494.72 Z" fill="#ece3dc" stroke="#a39b94" stroke-width="0.9"/><path transform="translate(1.25,5.00)" d="M106.26,477.98 Q108.10,472.80 113.60,472.94 L121.70,473.16 Q127.20,473.30 125.49,478.53 L118.91,498.57 Q117.20,503.80 111.82,502.68 L103.88,501.02 Q98.50,499.90 100.34,494.72 Z" fill="#ece3dc"/><path transform="translate(1.00,4.00)" d="M106.26,477.98 Q108.10,472.80 113.60,472.94 L121.70,473.16 Q127.20,473.30 125.49,478.53 L118.91,498.57 Q117.20,503.80 111.82,502.68 L103.88,501.02 Q98.50,499.90 100.34,494.72 Z" fill="#ece3dc"/><path transform="translate(0.75,3.00)" d="M106.26,477.98 Q108.10,472.80 113.60,472.94 L121.70,473.16 Q127.20,473.30 125.49,478.53 L118.91,498.57 Q117.20,503.80 111.82,502.68 L103.88,501.02 Q98.50,499.90 100.34,494.72 Z" fill="#ece3dc"/><path transform="translate(0.50,2.00)" d="M106.26,477.98 Q108.10,472.80 113.60,472.94 L121.70,473.16 Q127.20,473.30 125.49,478.53 L118.91,498.57 Q117.20,503.80 111.82,502.68 L103.88,501.02 Q98.50,499.90 100.34,494.72 Z" fill="#ece3dc"/><path transform="translate(0.25,1.00)" d="M106.26,477.98 Q108.10,472.80 113.60,472.94 L121.70,473.16 Q127.20,473.30 125.49,478.53 L118.91,498.57 Q117.20,503.80 111.82,502.68 L103.88,501.02 Q98.50,499.90 100.34,494.72 Z" fill="#ece3dc"/><path d="M106.26,477.98 Q108.10,472.80 113.60,472.94 L121.70,473.16 Q127.20,473.30 125.49,478.53 L118.91,498.57 Q117.20,503.80 111.82,502.68 L103.88,501.02 Q98.50,499.90 100.34,494.72 Z" fill="#ffffff" stroke="#b0a8a2" stroke-width="0.8"/>
<path d="M109.08,501.74 L118.39,481.28 L122.40,481.20 L119.60,472.60 L109.20,479.00 L113.84,479.21 L104.52,499.66 Z" fill="#e80000"/>
<text x="103.3" y="442.1" font-family="'Liberation Sans', Arial, sans-serif" font-size="19.5" fill="#111">+<tspan font-style="italic">t</tspan></text>
<g transform="translate(189.2,461.3)"><g transform="translate(0,5.50) rotate(-6.1)"><rect x="-29.0" y="-3.9" width="58" height="7.8" rx="3.9" fill="#efe8e2" stroke="#ada59e" stroke-width="0.9"/></g><g transform="translate(0,5.00) rotate(-6.1)"><rect x="-29.0" y="-3.9" width="58" height="7.8" rx="3.9" fill="#efe8e2"/></g><g transform="translate(0,4.50) rotate(-6.1)"><rect x="-29.0" y="-3.9" width="58" height="7.8" rx="3.9" fill="#efe8e2"/></g><g transform="translate(0,4.00) rotate(-6.1)"><rect x="-29.0" y="-3.9" width="58" height="7.8" rx="3.9" fill="#efe8e2"/></g><g transform="translate(0,3.50) rotate(-6.1)"><rect x="-29.0" y="-3.9" width="58" height="7.8" rx="3.9" fill="#efe8e2"/></g><g transform="translate(0,3.00) rotate(-6.1)"><rect x="-29.0" y="-3.9" width="58" height="7.8" rx="3.9" fill="#efe8e2"/></g><g transform="translate(0,2.50) rotate(-6.1)"><rect x="-29.0" y="-3.9" width="58" height="7.8" rx="3.9" fill="#efe8e2"/></g><g transform="translate(0,2.00) rotate(-6.1)"><rect x="-29.0" y="-3.9" width="58" height="7.8" rx="3.9" fill="#efe8e2"/></g><g transform="translate(0,1.50) rotate(-6.1)"><rect x="-29.0" y="-3.9" width="58" height="7.8" rx="3.9" fill="#efe8e2"/></g><g transform="translate(0,1.00) rotate(-6.1)"><rect x="-29.0" y="-3.9" width="58" height="7.8" rx="3.9" fill="#efe8e2"/></g><g transform="translate(0,0.50) rotate(-6.1)"><rect x="-29.0" y="-3.9" width="58" height="7.8" rx="3.9" fill="#efe8e2"/></g><g transform="rotate(-6.1)"><rect x="-29.0" y="-3.9" width="58" height="7.8" rx="3.9" fill="#ffffff" stroke="#b0a8a2" stroke-width="0.8"/></g></g>
<path d="M165.32,465.48 L202.03,460.16 L202.49,463.32 L212.60,456.40 L200.94,452.63 L201.40,455.80 L164.68,461.12 Z" fill="#0000f0"/>
<path d="M178.2,479.8 A18.6,10 0 0 1 215.4,479.8" fill="none" stroke="#0000e0" stroke-width="2" stroke-dasharray="3 2.2"/>
<path d="M214,476 L206,469.5 L208,476.5 Z" fill="#0000e0"/>
<path d="M196.9,543.6 L184.3,524.2 L209.5,524.2 Z" fill="#06064e"/>
<ellipse cx="196.9" cy="523.4" rx="12.9" ry="6.2" fill="#0808ee"/>
<path d="M192.5,523 L192.5,424.5 A4.6,4.6 0 0 1 201.7,424.5 L201.7,523 A4.6,2.5 0 0 1 192.5,523 Z" fill="url(#bshaft)"/>
<path d="M178.2,479.8 A18.6,10 0 0 0 215.4,479.8" fill="none" stroke="#0000e0" stroke-width="2" stroke-dasharray="3 2.2"/>
<g transform="translate(175,491)"><g transform="translate(0,6.00) rotate(26)"><rect x="-26.0" y="-5.5" width="52" height="11" rx="5.5" fill="#efe8e2" stroke="#ada59e" stroke-width="0.9"/></g><g transform="translate(0,5.50) rotate(26)"><rect x="-26.0" y="-5.5" width="52" height="11" rx="5.5" fill="#efe8e2"/></g><g transform="translate(0,5.00) rotate(26)"><rect x="-26.0" y="-5.5" width="52" height="11" rx="5.5" fill="#efe8e2"/></g><g transform="translate(0,4.50) rotate(26)"><rect x="-26.0" y="-5.5" width="52" height="11" rx="5.5" fill="#efe8e2"/></g><g transform="translate(0,4.00) rotate(26)"><rect x="-26.0" y="-5.5" width="52" height="11" rx="5.5" fill="#efe8e2"/></g><g transform="translate(0,3.50) rotate(26)"><rect x="-26.0" y="-5.5" width="52" height="11" rx="5.5" fill="#efe8e2"/></g><g transform="translate(0,3.00) rotate(26)"><rect x="-26.0" y="-5.5" width="52" height="11" rx="5.5" fill="#efe8e2"/></g><g transform="translate(0,2.50) rotate(26)"><rect x="-26.0" y="-5.5" width="52" height="11" rx="5.5" fill="#efe8e2"/></g><g transform="translate(0,2.00) rotate(26)"><rect x="-26.0" y="-5.5" width="52" height="11" rx="5.5" fill="#efe8e2"/></g><g transform="translate(0,1.50) rotate(26)"><rect x="-26.0" y="-5.5" width="52" height="11" rx="5.5" fill="#efe8e2"/></g><g transform="translate(0,1.00) rotate(26)"><rect x="-26.0" y="-5.5" width="52" height="11" rx="5.5" fill="#efe8e2"/></g><g transform="translate(0,0.50) rotate(26)"><rect x="-26.0" y="-5.5" width="52" height="11" rx="5.5" fill="#efe8e2"/></g><g transform="rotate(26)"><rect x="-26.0" y="-5.5" width="52" height="11" rx="5.5" fill="#ffffff" stroke="#b0a8a2" stroke-width="0.8"/></g></g>
<path d="M195.36,497.97 L169.10,483.56 L170.64,480.76 L158.40,480.20 L165.45,490.23 L166.99,487.42 L193.24,501.83 Z" fill="#0000f0"/>
<path transform="translate(1.50,6.00)" d="M220.82,473.23 Q222.80,468.10 228.30,468.21 L236.50,468.39 Q242.00,468.50 240.14,473.68 L233.36,492.52 Q231.50,497.70 226.05,496.96 L217.85,495.84 Q212.40,495.10 214.38,489.97 Z" fill="#ece3dc" stroke="#a39b94" stroke-width="0.9"/><path transform="translate(1.25,5.00)" d="M220.82,473.23 Q222.80,468.10 228.30,468.21 L236.50,468.39 Q242.00,468.50 240.14,473.68 L233.36,492.52 Q231.50,497.70 226.05,496.96 L217.85,495.84 Q212.40,495.10 214.38,489.97 Z" fill="#ece3dc"/><path transform="translate(1.00,4.00)" d="M220.82,473.23 Q222.80,468.10 228.30,468.21 L236.50,468.39 Q242.00,468.50 240.14,473.68 L233.36,492.52 Q231.50,497.70 226.05,496.96 L217.85,495.84 Q212.40,495.10 214.38,489.97 Z" fill="#ece3dc"/><path transform="translate(0.75,3.00)" d="M220.82,473.23 Q222.80,468.10 228.30,468.21 L236.50,468.39 Q242.00,468.50 240.14,473.68 L233.36,492.52 Q231.50,497.70 226.05,496.96 L217.85,495.84 Q212.40,495.10 214.38,489.97 Z" fill="#ece3dc"/><path transform="translate(0.50,2.00)" d="M220.82,473.23 Q222.80,468.10 228.30,468.21 L236.50,468.39 Q242.00,468.50 240.14,473.68 L233.36,492.52 Q231.50,497.70 226.05,496.96 L217.85,495.84 Q212.40,495.10 214.38,489.97 Z" fill="#ece3dc"/><path transform="translate(0.25,1.00)" d="M220.82,473.23 Q222.80,468.10 228.30,468.21 L236.50,468.39 Q242.00,468.50 240.14,473.68 L233.36,492.52 Q231.50,497.70 226.05,496.96 L217.85,495.84 Q212.40,495.10 214.38,489.97 Z" fill="#ece3dc"/><path d="M220.82,473.23 Q222.80,468.10 228.30,468.21 L236.50,468.39 Q242.00,468.50 240.14,473.68 L233.36,492.52 Q231.50,497.70 226.05,496.96 L217.85,495.84 Q212.40,495.10 214.38,489.97 Z" fill="#ffffff" stroke="#b0a8a2" stroke-width="0.8"/>
<path d="M231.05,467.40 L220.76,488.52 L216.90,489.00 L219.80,496.20 L230.50,490.90 L225.26,490.71 L235.55,469.60 Z" fill="#0000f0"/>
<text x="217" y="442.1" font-family="'Liberation Sans', Arial, sans-serif" font-size="19.5" fill="#111">&#8722;<tspan font-style="italic">t</tspan></text>
<text x="296.2" y="422.9" font-family="'Liberation Sans', Arial, sans-serif" font-weight="bold" font-size="28.5" textLength="17.6" lengthAdjust="spacingAndGlyphs" fill="#000" stroke="#000" stroke-width="1">c</text>
<g transform="translate(359.50,418.60) rotate(180.00)"><rect x="-23.3" y="-6.6" width="46.6" height="13.2" rx="6.6" fill="#bcd5ef" stroke="#30363f" stroke-width="1.4"/><rect x="-22.2" y="-5.5" width="44.4" height="11.0" rx="5.5" fill="none" stroke="#a7c2de" stroke-width="0.9"/><path d="M-12.9,-1.5 L3.1,-1.5 L3.1,-4.4 L13.5,0 L3.1,4.4 L3.1,1.5 L-12.9,1.5 Z" fill="#3f4d63"/></g>
<g transform="translate(341.80,453.80) rotate(-120.00)"><rect x="-23.0" y="-6.5" width="46" height="13" rx="6.5" fill="#bcd5ef" stroke="#30363f" stroke-width="1.4"/><rect x="-21.9" y="-5.4" width="43.8" height="10.8" rx="5.4" fill="none" stroke="#a7c2de" stroke-width="0.9"/><path d="M-12.9,-1.5 L3.1,-1.5 L3.1,-4.4 L13.5,0 L3.1,4.4 L3.1,1.5 L-12.9,1.5 Z" fill="#3f4d63"/></g>
<g transform="translate(378.20,453.80) rotate(120.00)"><rect x="-23.0" y="-6.5" width="46" height="13" rx="6.5" fill="#bcd5ef" stroke="#30363f" stroke-width="1.4"/><rect x="-21.9" y="-5.4" width="43.8" height="10.8" rx="5.4" fill="none" stroke="#a7c2de" stroke-width="0.9"/><path d="M-12.9,-1.5 L3.1,-1.5 L3.1,-4.4 L13.5,0 L3.1,4.4 L3.1,1.5 L-12.9,1.5 Z" fill="#3f4d63"/></g>
<g transform="translate(342.00,515.80) rotate(120.00)"><rect x="-23.0" y="-6.5" width="46" height="13" rx="6.5" fill="#bcd5ef" stroke="#30363f" stroke-width="1.4"/><rect x="-21.9" y="-5.4" width="43.8" height="10.8" rx="5.4" fill="none" stroke="#a7c2de" stroke-width="0.9"/><path d="M-12.9,-1.5 L3.1,-1.5 L3.1,-4.4 L13.5,0 L3.1,4.4 L3.1,1.5 L-12.9,1.5 Z" fill="#3f4d63"/></g>
<g transform="translate(377.80,515.80) rotate(-120.00)"><rect x="-23.0" y="-6.5" width="46" height="13" rx="6.5" fill="#bcd5ef" stroke="#30363f" stroke-width="1.4"/><rect x="-21.9" y="-5.4" width="43.8" height="10.8" rx="5.4" fill="none" stroke="#a7c2de" stroke-width="0.9"/><path d="M-12.9,-1.5 L3.1,-1.5 L3.1,-4.4 L13.5,0 L3.1,4.4 L3.1,1.5 L-12.9,1.5 Z" fill="#3f4d63"/></g>
<g transform="translate(358.80,548.20) rotate(0.00)"><rect x="-23.3" y="-6.6" width="46.6" height="13.2" rx="6.6" fill="#bcd5ef" stroke="#30363f" stroke-width="1.4"/><rect x="-22.2" y="-5.5" width="44.4" height="11.0" rx="5.5" fill="none" stroke="#a7c2de" stroke-width="0.9"/><path d="M-12.9,-1.5 L3.1,-1.5 L3.1,-4.4 L13.5,0 L3.1,4.4 L3.1,1.5 L-12.9,1.5 Z" fill="#3f4d63"/></g>
<text x="353.5" y="439.5" font-family="'Liberation Sans', Arial, sans-serif" font-style="italic" font-size="17" fill="#d42020">J<tspan font-style="normal" font-size="11.5" dy="6">1</tspan></text>
<text x="311.5" y="485.8" font-family="'Liberation Sans', Arial, sans-serif" font-style="italic" font-size="17" fill="#2828d8">J<tspan font-style="normal" font-size="11.5" dy="6">2</tspan></text>
<text x="372" y="486.6" font-family="'Liberation Sans', Arial, sans-serif" font-style="italic" font-size="17" fill="#2aa02a">J<tspan font-style="normal" font-size="11.5" dy="6">3</tspan></text>
<path d="M353.36,448.89 Q359.8,443.5 366.50,449.42" fill="none" stroke="#d42020" stroke-width="1.3" stroke-dasharray="2.2 1.6"/><path d="M350.60,451.20 L352.14,447.43 L354.58,450.35 Z" fill="#d42020"/><path d="M369.20,451.80 L365.24,450.84 L367.76,447.99 Z" fill="#d42020"/>
<path d="M337.70,475.85 Q329.5,486.5 335.75,496.91" fill="none" stroke="#2828d8" stroke-width="1.3" stroke-dasharray="2.2 1.6"/><path d="M339.90,473.00 L339.21,477.01 L336.20,474.69 Z" fill="#2828d8"/><path d="M337.60,500.00 L334.12,497.89 L337.38,495.94 Z" fill="#2828d8"/>
<path d="M355.69,479.13 Q359.5,484.5 362.23,490.16" fill="none" stroke="#2aa02a" stroke-width="1.3" stroke-dasharray="2.2 1.6"/><path d="M353.60,476.20 L357.23,478.03 L354.14,480.24 Z" fill="#2aa02a"/><path d="M363.80,493.40 L360.52,490.99 L363.94,489.33 Z" fill="#2aa02a"/>
<text x="417.3" y="30.2" font-family="'Liberation Sans', Arial, sans-serif" font-weight="bold" font-size="28.5" textLength="18.9" lengthAdjust="spacingAndGlyphs" fill="#000" stroke="#000" stroke-width="1">d</text>
<line x1="509.8" y1="23" x2="509.8" y2="556.6" stroke="#555" stroke-width="1.3"/>
<line x1="503" y1="518.59" x2="509.8" y2="518.59" stroke="#444" stroke-width="1.3"/>
<line x1="503" y1="477.30" x2="509.8" y2="477.30" stroke="#444" stroke-width="1.3"/>
<line x1="503" y1="436.01" x2="509.8" y2="436.01" stroke="#444" stroke-width="1.3"/>
<line x1="503" y1="394.72" x2="509.8" y2="394.72" stroke="#444" stroke-width="1.3"/>
<line x1="503" y1="353.43" x2="509.8" y2="353.43" stroke="#444" stroke-width="1.3"/>
<line x1="503" y1="312.14" x2="509.8" y2="312.14" stroke="#444" stroke-width="1.3"/>
<line x1="503" y1="270.85" x2="509.8" y2="270.85" stroke="#444" stroke-width="1.3"/>
<line x1="503" y1="229.56" x2="509.8" y2="229.56" stroke="#444" stroke-width="1.3"/>
<line x1="503" y1="188.27" x2="509.8" y2="188.27" stroke="#444" stroke-width="1.3"/>
<line x1="503" y1="146.98" x2="509.8" y2="146.98" stroke="#444" stroke-width="1.3"/>
<line x1="503" y1="105.69" x2="509.8" y2="105.69" stroke="#444" stroke-width="1.3"/>
<line x1="503" y1="64.40" x2="509.8" y2="64.40" stroke="#444" stroke-width="1.3"/>
<text x="495.0" y="484.05" text-anchor="end" font-family="'Liberation Sans', Arial, sans-serif" font-size="17.6" letter-spacing="0.5" fill="#1a1a1a">2.0</text>
<text x="495.0" y="401.47" text-anchor="end" font-family="'Liberation Sans', Arial, sans-serif" font-size="17.6" letter-spacing="0.5" fill="#1a1a1a">4.0</text>
<text x="495.0" y="318.89" text-anchor="end" font-family="'Liberation Sans', Arial, sans-serif" font-size="17.6" letter-spacing="0.5" fill="#1a1a1a">6.0</text>
<text x="495.0" y="236.31" text-anchor="end" font-family="'Liberation Sans', Arial, sans-serif" font-size="17.6" letter-spacing="0.5" fill="#1a1a1a">8.0</text>
<text x="495.0" y="153.73" text-anchor="end" font-family="'Liberation Sans', Arial, sans-serif" font-size="17.6" letter-spacing="0.5" fill="#1a1a1a">10.0</text>
<text x="495.0" y="71.15" text-anchor="end" font-family="'Liberation Sans', Arial, sans-serif" font-size="17.6" letter-spacing="0.5" fill="#1a1a1a">12.0</text>
<text transform="translate(437.9,397.8) rotate(-90)" font-family="'Liberation Sans', Arial, sans-serif" font-size="20.8" fill="#1a1a1a">Vertex energy (×10<tspan font-size="11" dy="-11.8">&#8722;18</tspan><tspan dy="11.8"> J)</tspan></text>
<rect x="524.7" y="79.1" width="71.5" height="16.1" fill="#cc0000"/>
<rect x="524.7" y="255.9" width="71.5" height="16.4" fill="#e5ae2f"/>
<rect x="524.7" y="315.2" width="71.5" height="16.6" fill="#028d0e"/>
<rect x="524.7" y="453.3" width="71.5" height="16.1" fill="#1f40f5"/>
<rect x="524.7" y="474.5" width="71.5" height="15.9" fill="#7f7f7f"/>
<text x="521.8" y="67.3" text-anchor="start" font-family="'Liberation Sans', Arial, sans-serif" font-size="16.5" letter-spacing="-0.6" fill="#1a1a1a">2(<tspan font-style="italic">J</tspan><tspan font-size="11" dy="5.5">1</tspan><tspan dy="-5.5">+</tspan><tspan font-style="italic">J</tspan><tspan font-size="11" dy="5.5">2</tspan><tspan dy="-5.5">+</tspan><tspan font-style="italic">J</tspan><tspan font-size="11" dy="5.5">3</tspan><tspan dy="-5.5">)</tspan></text>
<text x="549.8" y="246.5" text-anchor="start" font-family="'Liberation Sans', Arial, sans-serif" font-size="16.5" letter-spacing="0" fill="#1a1a1a">2<tspan font-style="italic">J</tspan><tspan font-size="11" dy="5.5">1</tspan><tspan dy="-5.5"></tspan></text>
<text x="531.6" y="305.3" text-anchor="start" font-family="'Liberation Sans', Arial, sans-serif" font-size="16.5" letter-spacing="-0.7" fill="#1a1a1a"><tspan font-style="italic">J</tspan><tspan font-size="11" dy="5.5">1</tspan><tspan dy="-5.5">+</tspan><tspan font-style="italic">J</tspan><tspan font-size="11" dy="5.5">2</tspan><tspan dy="-5.5">+</tspan><tspan font-style="italic">J</tspan><tspan font-size="11" dy="5.5">3</tspan><tspan dy="-5.5"></tspan></text>
<text x="548.5" y="441.6" text-anchor="start" font-family="'Liberation Sans', Arial, sans-serif" font-size="16.5" letter-spacing="0" fill="#1a1a1a">2<tspan font-style="italic">J</tspan><tspan font-size="11" dy="5.5">2</tspan><tspan dy="-5.5"></tspan></text>
<text x="548.5" y="513.3" text-anchor="start" font-family="'Liberation Sans', Arial, sans-serif" font-size="16.5" letter-spacing="0" fill="#1a1a1a">2<tspan font-style="italic">J</tspan><tspan font-size="11" dy="5.5">3</tspan><tspan dy="-5.5"></tspan></text>
<rect x="624.4" y="36.3" width="194.1" height="72.0" rx="11" fill="none" stroke="#d01828" stroke-width="1.8" stroke-dasharray="6.3 6.2"/>
<rect x="624.6" y="118.5" width="194.0" height="72.1" rx="11" fill="none" stroke="#f2b824" stroke-width="1.8" stroke-dasharray="6.3 6.2"/>
<rect x="624.5" y="208.8" width="193.9" height="156.6" rx="21" fill="none" stroke="#22aa5a" stroke-width="1.8" stroke-dasharray="6.3 6.2"/>
<rect x="620.6" y="378.3" width="197.9" height="72.2" rx="10" fill="none" stroke="#2233ee" stroke-width="1.8" stroke-dasharray="6.3 6.2"/>
<rect x="620.8" y="472.5" width="197.7" height="72.0" rx="10" fill="none" stroke="#808080" stroke-width="1.8" stroke-dasharray="6.3 6.2"/>
<line x1="600.3" y1="84.4" x2="624.4" y2="72.6" stroke="#cf2030" stroke-width="1.8" stroke-dasharray="6.3 6.2"/>
<line x1="598.6" y1="256.2" x2="624.7" y2="163" stroke="#f2b824" stroke-width="1.8" stroke-dasharray="6.3 6.2"/>
<line x1="597.8" y1="320" x2="624.6" y2="287" stroke="#22aa5a" stroke-width="1.8" stroke-dasharray="6.3 6.2"/>
<line x1="597.2" y1="455.5" x2="620.6" y2="418.3" stroke="#2233ee" stroke-width="1.8" stroke-dasharray="6.3 6.2"/>
<line x1="596.3" y1="483" x2="620.8" y2="491" stroke="#808080" stroke-width="1.8" stroke-dasharray="6.3 6.2"/>
<path d="M630.18,49.66 L634.99,57.51 L631.27,57.67 L641.09,64.32 L639.63,52.55 L637.80,55.78 L632.99,47.94 Z" fill="#ee7e2e"/><path d="M656.41,47.94 L651.60,55.78 L649.77,52.55 L648.31,64.32 L658.13,57.67 L654.41,57.51 L659.22,49.66 Z" fill="#ee7e2e"/><path d="M632.99,92.46 L637.80,84.62 L639.63,87.85 L641.09,76.08 L631.27,82.73 L634.99,82.89 L630.18,90.74 Z" fill="#ee7e2e"/><path d="M659.22,90.74 L654.41,82.89 L658.13,82.73 L648.31,76.08 L649.77,87.85 L651.60,84.62 L656.41,92.46 Z" fill="#ee7e2e"/>
<path d="M693.28,62.50 L688.52,54.74 L692.24,54.58 L682.42,47.93 L683.88,59.70 L685.71,56.47 L690.47,64.23 Z" fill="#62b044"/><path d="M701.53,64.23 L706.29,56.47 L708.12,59.70 L709.58,47.93 L699.76,54.58 L703.48,54.74 L698.72,62.50 Z" fill="#62b044"/><path d="M690.47,75.97 L685.71,83.73 L683.88,80.50 L682.42,92.27 L692.24,85.62 L688.52,85.46 L693.28,77.70 Z" fill="#62b044"/><path d="M698.72,77.70 L703.48,85.46 L699.76,85.62 L709.58,92.27 L708.12,80.50 L706.29,83.73 L701.53,75.97 Z" fill="#62b044"/>
<path d="M630.18,131.06 L634.99,138.91 L631.27,139.07 L641.09,145.72 L639.63,133.95 L637.80,137.18 L632.99,129.34 Z" fill="#ee7e2e"/><path d="M656.41,129.34 L651.60,137.18 L649.77,133.95 L648.31,145.72 L658.13,139.07 L654.41,138.91 L659.22,131.06 Z" fill="#ee7e2e"/><path d="M639.17,157.47 L634.41,165.23 L632.58,162.00 L631.12,173.77 L640.94,167.12 L637.22,166.96 L641.98,159.20 Z" fill="#62b044"/><path d="M647.42,159.20 L652.18,166.96 L648.46,167.12 L658.28,173.77 L656.82,162.00 L654.99,165.23 L650.23,157.47 Z" fill="#62b044"/>
<path d="M692.88,144.00 L688.12,136.24 L691.84,136.08 L682.02,129.43 L683.48,141.20 L685.31,137.97 L690.07,145.73 Z" fill="#62b044"/><path d="M701.13,145.73 L705.89,137.97 L707.72,141.20 L709.18,129.43 L699.36,136.08 L703.08,136.24 L698.32,144.00 Z" fill="#62b044"/><path d="M683.89,173.86 L688.70,166.02 L690.53,169.25 L691.99,157.48 L682.17,164.13 L685.89,164.29 L681.08,172.14 Z" fill="#ee7e2e"/><path d="M710.12,172.14 L705.31,164.29 L709.03,164.13 L699.21,157.48 L700.67,169.25 L702.50,166.02 L707.31,173.86 Z" fill="#ee7e2e"/>
<path d="M630.28,240.96 L635.09,248.81 L631.37,248.97 L641.19,255.62 L639.73,243.85 L637.90,247.08 L633.09,239.24 Z" fill="#ee7e2e"/><path d="M656.51,239.24 L651.70,247.08 L649.87,243.85 L648.41,255.62 L658.23,248.97 L654.51,248.81 L659.32,240.96 Z" fill="#ee7e2e"/><path d="M639.27,267.37 L634.51,275.13 L632.68,271.90 L631.22,283.67 L641.04,277.02 L637.32,276.86 L642.08,269.10 Z" fill="#62b044"/><path d="M659.32,282.04 L654.51,274.19 L658.23,274.03 L648.41,267.38 L649.87,279.15 L651.70,275.92 L656.51,283.76 Z" fill="#ee7e2e"/>
<path d="M693.28,253.90 L688.52,246.14 L692.24,245.98 L682.42,239.33 L683.88,251.10 L685.71,247.87 L690.47,255.63 Z" fill="#62b044"/><path d="M707.71,239.24 L702.90,247.08 L701.07,243.85 L699.61,255.62 L709.43,248.97 L705.71,248.81 L710.52,240.96 Z" fill="#ee7e2e"/><path d="M684.29,283.76 L689.10,275.92 L690.93,279.15 L692.39,267.38 L682.57,274.03 L686.29,274.19 L681.48,282.04 Z" fill="#ee7e2e"/><path d="M710.52,282.04 L705.71,274.19 L709.43,274.03 L699.61,267.38 L701.07,279.15 L702.90,275.92 L707.71,283.76 Z" fill="#ee7e2e"/>
<path d="M733.28,240.96 L738.09,248.81 L734.37,248.97 L744.19,255.62 L742.73,243.85 L740.90,247.08 L736.09,239.24 Z" fill="#ee7e2e"/><path d="M753.33,255.63 L758.09,247.87 L759.92,251.10 L761.38,239.33 L751.56,245.98 L755.28,246.14 L750.52,253.90 Z" fill="#62b044"/><path d="M736.09,283.76 L740.90,275.92 L742.73,279.15 L744.19,267.38 L734.37,274.03 L738.09,274.19 L733.28,282.04 Z" fill="#ee7e2e"/><path d="M762.32,282.04 L757.51,274.19 L761.23,274.03 L751.41,267.38 L752.87,279.15 L754.70,275.92 L759.51,283.76 Z" fill="#ee7e2e"/>
<path d="M782.48,240.96 L787.29,248.81 L783.57,248.97 L793.39,255.62 L791.93,243.85 L790.10,247.08 L785.29,239.24 Z" fill="#ee7e2e"/><path d="M808.71,239.24 L803.90,247.08 L802.07,243.85 L800.61,255.62 L810.43,248.97 L806.71,248.81 L811.52,240.96 Z" fill="#ee7e2e"/><path d="M785.29,283.76 L790.10,275.92 L791.93,279.15 L793.39,267.38 L783.57,274.03 L787.29,274.19 L782.48,282.04 Z" fill="#ee7e2e"/><path d="M799.72,269.10 L804.48,276.86 L800.76,277.02 L810.58,283.67 L809.12,271.90 L807.29,275.13 L802.53,267.37 Z" fill="#62b044"/>
<path d="M642.08,316.10 L637.32,308.34 L641.04,308.18 L631.22,301.53 L632.68,313.30 L634.51,310.07 L639.27,317.83 Z" fill="#62b044"/><path d="M650.33,317.83 L655.09,310.07 L656.92,313.30 L658.38,301.53 L648.56,308.18 L652.28,308.34 L647.52,316.10 Z" fill="#62b044"/><path d="M633.09,345.96 L637.90,338.12 L639.73,341.35 L641.19,329.58 L631.37,336.23 L635.09,336.39 L630.28,344.24 Z" fill="#ee7e2e"/><path d="M647.52,331.30 L652.28,339.06 L648.56,339.22 L658.38,345.87 L656.92,334.10 L655.09,337.33 L650.33,329.57 Z" fill="#62b044"/>
<path d="M681.48,303.16 L686.29,311.01 L682.57,311.17 L692.39,317.82 L690.93,306.05 L689.10,309.28 L684.29,301.44 Z" fill="#ee7e2e"/><path d="M701.53,317.83 L706.29,310.07 L708.12,313.30 L709.58,301.53 L699.76,308.18 L703.48,308.34 L698.72,316.10 Z" fill="#62b044"/><path d="M690.47,329.57 L685.71,337.33 L683.88,334.10 L682.42,345.87 L692.24,339.22 L688.52,339.06 L693.28,331.30 Z" fill="#62b044"/><path d="M698.72,331.30 L703.48,339.06 L699.76,339.22 L709.58,345.87 L708.12,334.10 L706.29,337.33 L701.53,329.57 Z" fill="#62b044"/>
<path d="M745.08,316.10 L740.32,308.34 L744.04,308.18 L734.22,301.53 L735.68,313.30 L737.51,310.07 L742.27,317.83 Z" fill="#62b044"/><path d="M759.51,301.44 L754.70,309.28 L752.87,306.05 L751.41,317.82 L761.23,311.17 L757.51,311.01 L762.32,303.16 Z" fill="#ee7e2e"/><path d="M742.27,329.57 L737.51,337.33 L735.68,334.10 L734.22,345.87 L744.04,339.22 L740.32,339.06 L745.08,331.30 Z" fill="#62b044"/><path d="M750.52,331.30 L755.28,339.06 L751.56,339.22 L761.38,345.87 L759.92,334.10 L758.09,337.33 L753.33,329.57 Z" fill="#62b044"/>
<path d="M794.28,316.10 L789.52,308.34 L793.24,308.18 L783.42,301.53 L784.88,313.30 L786.71,310.07 L791.47,317.83 Z" fill="#62b044"/><path d="M802.53,317.83 L807.29,310.07 L809.12,313.30 L810.58,301.53 L800.76,308.18 L804.48,308.34 L799.72,316.10 Z" fill="#62b044"/><path d="M791.47,329.57 L786.71,337.33 L784.88,334.10 L783.42,345.87 L793.24,339.22 L789.52,339.06 L794.28,331.30 Z" fill="#62b044"/><path d="M811.52,344.24 L806.71,336.39 L810.43,336.23 L800.61,329.58 L802.07,341.35 L803.90,338.12 L808.71,345.96 Z" fill="#ee7e2e"/>
<path d="M630.08,391.76 L634.89,399.61 L631.17,399.77 L640.99,406.42 L639.53,394.65 L637.70,397.88 L632.89,390.04 Z" fill="#ee7e2e"/><path d="M650.13,406.43 L654.89,398.67 L656.72,401.90 L658.18,390.13 L648.36,396.78 L652.08,396.94 L647.32,404.70 Z" fill="#62b044"/><path d="M632.89,434.56 L637.70,426.72 L639.53,429.95 L640.99,418.18 L631.17,424.83 L634.89,424.99 L630.08,432.84 Z" fill="#ee7e2e"/><path d="M647.32,419.90 L652.08,427.66 L648.36,427.82 L658.18,434.47 L656.72,422.70 L654.89,425.93 L650.13,418.17 Z" fill="#62b044"/>
<path d="M692.88,404.70 L688.12,396.94 L691.84,396.78 L682.02,390.13 L683.48,401.90 L685.31,398.67 L690.07,406.43 Z" fill="#62b044"/><path d="M707.31,390.04 L702.50,397.88 L700.67,394.65 L699.21,406.42 L709.03,399.77 L705.31,399.61 L710.12,391.76 Z" fill="#ee7e2e"/><path d="M690.07,418.17 L685.31,425.93 L683.48,422.70 L682.02,434.47 L691.84,427.82 L688.12,427.66 L692.88,419.90 Z" fill="#62b044"/><path d="M710.12,432.84 L705.31,424.99 L709.03,424.83 L699.21,418.18 L700.67,429.95 L702.50,426.72 L707.31,434.56 Z" fill="#ee7e2e"/>
<path d="M630.08,487.46 L634.89,495.31 L631.17,495.47 L640.99,502.12 L639.53,490.35 L637.70,493.58 L632.89,485.74 Z" fill="#ee7e2e"/><path d="M650.13,502.13 L654.89,494.37 L656.72,497.60 L658.18,485.83 L648.36,492.48 L652.08,492.64 L647.32,500.40 Z" fill="#62b044"/><path d="M639.07,513.87 L634.31,521.63 L632.48,518.40 L631.02,530.17 L640.84,523.52 L637.12,523.36 L641.88,515.60 Z" fill="#62b044"/><path d="M659.12,528.54 L654.31,520.69 L658.03,520.53 L648.21,513.88 L649.67,525.65 L651.50,522.42 L656.31,530.26 Z" fill="#ee7e2e"/>
<path d="M692.58,500.40 L687.82,492.64 L691.54,492.48 L681.72,485.83 L683.18,497.60 L685.01,494.37 L689.77,502.13 Z" fill="#62b044"/><path d="M707.01,485.74 L702.20,493.58 L700.37,490.35 L698.91,502.12 L708.73,495.47 L705.01,495.31 L709.82,487.46 Z" fill="#ee7e2e"/><path d="M683.59,530.26 L688.40,522.42 L690.23,525.65 L691.69,513.88 L681.87,520.53 L685.59,520.69 L680.78,528.54 Z" fill="#ee7e2e"/><path d="M698.02,515.60 L702.78,523.36 L699.06,523.52 L708.88,530.17 L707.42,518.40 L705.59,521.63 L700.83,513.87 Z" fill="#62b044"/>
<text x="726.2" y="65.5" font-family="'Liberation Sans', Arial, sans-serif" font-size="21" textLength="68.69" lengthAdjust="spacingAndGlyphs" fill="#1a1a1a">Type IV</text>
<text x="725.26" y="93.8" font-family="'Liberation Sans', Arial, sans-serif" font-size="21" textLength="57.66" lengthAdjust="spacingAndGlyphs" fill="#1a1a1a">(<tspan font-style="italic">d</tspan> = 2)</text>
<text x="723.2" y="144.9" font-family="'Liberation Sans', Arial, sans-serif" font-size="21" textLength="80.18" lengthAdjust="spacingAndGlyphs" fill="#1a1a1a">Type II-β</text>
<text x="722.26" y="175.4" font-family="'Liberation Sans', Arial, sans-serif" font-size="21" textLength="57.46" lengthAdjust="spacingAndGlyphs" fill="#1a1a1a">(<tspan font-style="italic">d</tspan> = 2)</text>
<text x="656.5" y="229.7" font-family="'Liberation Sans', Arial, sans-serif" font-size="21" textLength="66.52" lengthAdjust="spacingAndGlyphs" fill="#1a1a1a">Type III</text>
<text x="737.04" y="229.7" font-family="'Liberation Sans', Arial, sans-serif" font-size="21" textLength="58.6" lengthAdjust="spacingAndGlyphs" fill="#1a1a1a">(<tspan font-style="italic">d</tspan> = 8)</text>
<text x="726.8" y="403.9" font-family="'Liberation Sans', Arial, sans-serif" font-size="21" textLength="80.34" lengthAdjust="spacingAndGlyphs" fill="#1a1a1a">Type II-α</text>
<text x="725.85" y="435.8" font-family="'Liberation Sans', Arial, sans-serif" font-size="21" textLength="57.98" lengthAdjust="spacingAndGlyphs" fill="#1a1a1a">(<tspan font-style="italic">d</tspan> = 2)</text>
<text x="743.0" y="501.6" font-family="'Liberation Sans', Arial, sans-serif" font-size="21" textLength="55.95" lengthAdjust="spacingAndGlyphs" fill="#1a1a1a">Type I</text>
<text x="742.06" y="531.6" font-family="'Liberation Sans', Arial, sans-serif" font-size="21" textLength="57.66" lengthAdjust="spacingAndGlyphs" fill="#1a1a1a">(<tspan font-style="italic">d</tspan> = 2)</text>
</svg>
</body></html>
